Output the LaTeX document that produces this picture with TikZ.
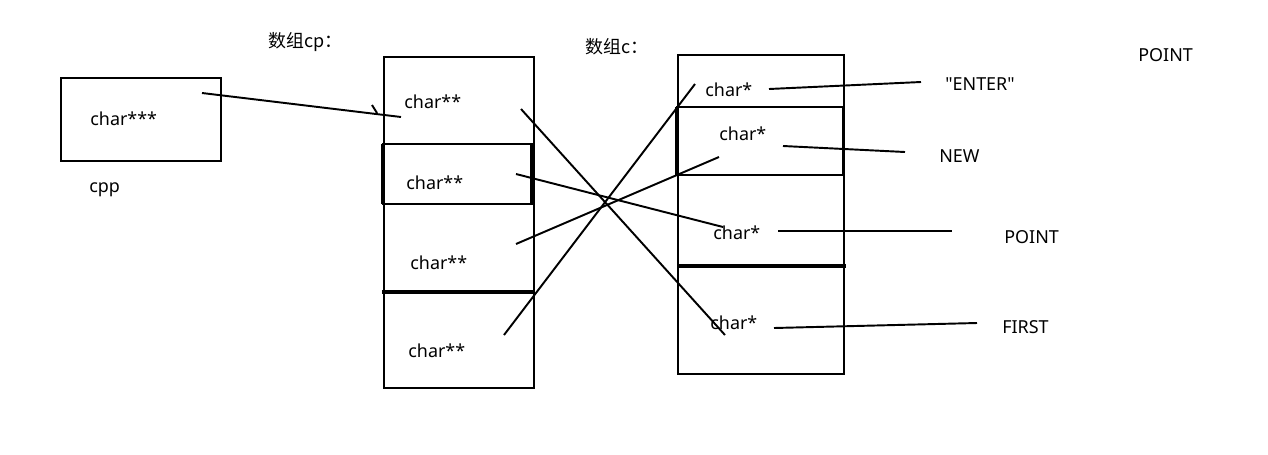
\documentclass[tikz,border=0pt]{standalone}
\usepackage{fontspec}
\setmainfont{Noto Sans}[Ligatures=TeXOff]
\newfontfamily\cjk{Noto Sans CJK SC}
\usepackage{tikz}

\begin{document}
\begin{tikzpicture}[
    x=0.02cm, y=-0.02cm,
    sketch/.style={line width=1.1pt, draw=black},
    heavy/.style={line width=1.9pt, draw=black},
    lbl/.style={anchor=west, inner sep=0pt, font=\fontsize{10.2}{12}\selectfont}
  ]
    \useasboundingbox (0,0) rectangle (1268,454);

    % pointer cpp
    \draw[sketch] (61,78) rectangle (221,161);
    \node[lbl] (cpptype) at (90,119) {char***};
    \node[lbl] (cppname) at (89,190) {cpp};

    % array cp
    \node[lbl] (cptitle) at (268,42) {\cjk 数组cp：};
    \draw[sketch] (384,57) rectangle (534,388);
    \draw[sketch] (383,144) rectangle (532,204);
    \draw[heavy] (383,144) -- (383,204);
    \draw[heavy] (532,144) -- (532,204);
    \draw[heavy] (382,292) -- (534,292);
    \node[lbl] (cp1) at (404,102) {char**};
    \node[lbl] (cp2) at (406,183) {char**};
    \node[lbl] (cp3) at (410,263) {char**};
    \node[lbl] (cp4) at (408,351) {char**};

    % array c
    \node[lbl] (ctitle) at (585,47) {\cjk 数组c：};
    \draw[sketch] (678,55) rectangle (844,374);
    \draw[sketch] (677,107) rectangle (843,175);
    \draw[heavy] (677,107) -- (677,175);
    \draw[heavy] (678,266) -- (846,266);
    \node[lbl] (c1) at (705,90) {char*};
    \node[lbl] (c2) at (719,134) {char*};
    \node[lbl] (c3) at (713,233) {char*};
    \node[lbl] (c4) at (710,323) {char*};

    % strings
    \node[lbl] (enter) at (945,84) {"ENTER"};
    \node[lbl] (new) at (939,156) {NEW};
    \node[lbl] (point) at (1004,237) {POINT};
    \node[lbl] (first) at (1002,327) {FIRST};
    \node[lbl] (pointtop) at (1138,55) {POINT};

    % line ends
    \coordinate (cpp out) at (202,93);
    \coordinate (cp in) at (401,117);
    \coordinate (cp1 out) at (521,109);
    \coordinate (cp2 out) at (516,174);
    \coordinate (cp3 out) at (516,244);
    \coordinate (cp4 out) at (504,335);
    \coordinate (c1 in) at (695,84);
    \coordinate (c2 in) at (719,157);
    \coordinate (c3 in) at (723,227);
    \coordinate (c4 in) at (725,335);
    \coordinate (c1 out) at (769,89);
    \coordinate (c2 out) at (783,146);
    \coordinate (c3 out) at (778,231);
    \coordinate (c4 out) at (774,328);
    \coordinate (enter in) at (921,82);
    \coordinate (new in) at (905,152);
    \coordinate (point in) at (952,231);
    \coordinate (first in) at (977,323);

    \draw[sketch] (cpp out) -- (cp in);
    \draw[sketch] (372,105) -- (377,113);
    \draw[sketch] (cp1 out) -- (c4 in);
    \draw[sketch] (cp2 out) -- (c3 in);
    \draw[sketch] (cp3 out) -- (c2 in);
    \draw[sketch] (cp4 out) -- (c1 in);
    \draw[sketch] (c1 out) -- (enter in);
    \draw[sketch] (c2 out) -- (new in);
    \draw[sketch] (c3 out) -- (point in);
    \draw[sketch] (c4 out) -- (first in);
  \end{tikzpicture}
\end{document}
